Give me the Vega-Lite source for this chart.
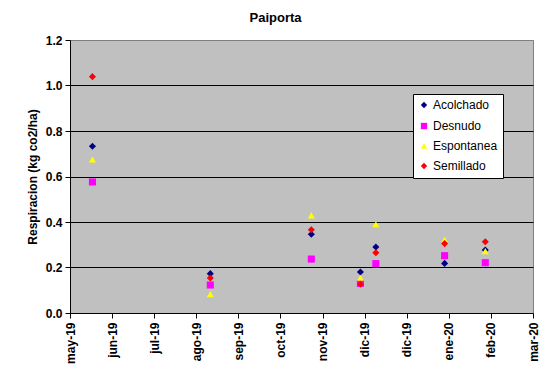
{
  "$schema": "https://vega.github.io/schema/vega-lite/v6.json",
  "width": 463,
  "height": 273,
  "autosize": "none",
  "padding": {"left": 70, "top": 40, "right": 18, "bottom": 75},
  "background": "white",
  "title": {"text": "Paiporta", "font": "Liberation Sans", "fontSize": 13, "fontWeight": "bold", "color": "black", "anchor": "middle", "dx": -26, "offset": 9},
  "config": {
    "view": {"stroke": "#808080", "fill": "#C0C0C0"},
    "axis": {"labelFont": "Liberation Sans", "labelFontSize": 12, "labelFontWeight": "bold", "labelColor": "black", "titleFont": "Liberation Sans", "titleFontSize": 12, "titleFontWeight": "bold", "titleColor": "black", "domainColor": "black", "tickColor": "black", "tickSize": 5}
  },
  "data": {"values": [
    {"fecha": "2019-05-21", "serie": "Acolchado", "valor": 0.733},
    {"fecha": "2019-08-13", "serie": "Acolchado", "valor": 0.173},
    {"fecha": "2019-10-24", "serie": "Acolchado", "valor": 0.346},
    {"fecha": "2019-11-28", "serie": "Acolchado", "valor": 0.180},
    {"fecha": "2019-12-09", "serie": "Acolchado", "valor": 0.290},
    {"fecha": "2020-01-27", "serie": "Acolchado", "valor": 0.218},
    {"fecha": "2020-02-25", "serie": "Acolchado", "valor": 0.277},
    {"fecha": "2019-05-21", "serie": "Desnudo", "valor": 0.576},
    {"fecha": "2019-08-13", "serie": "Desnudo", "valor": 0.123},
    {"fecha": "2019-10-24", "serie": "Desnudo", "valor": 0.237},
    {"fecha": "2019-11-28", "serie": "Desnudo", "valor": 0.130},
    {"fecha": "2019-12-09", "serie": "Desnudo", "valor": 0.217},
    {"fecha": "2020-01-27", "serie": "Desnudo", "valor": 0.252},
    {"fecha": "2020-02-25", "serie": "Desnudo", "valor": 0.221},
    {"fecha": "2019-05-21", "serie": "Espontanea", "valor": 0.675},
    {"fecha": "2019-08-13", "serie": "Espontanea", "valor": 0.083},
    {"fecha": "2019-10-24", "serie": "Espontanea", "valor": 0.429},
    {"fecha": "2019-11-28", "serie": "Espontanea", "valor": 0.155},
    {"fecha": "2019-12-09", "serie": "Espontanea", "valor": 0.390},
    {"fecha": "2020-01-27", "serie": "Espontanea", "valor": 0.322},
    {"fecha": "2020-02-25", "serie": "Espontanea", "valor": 0.272},
    {"fecha": "2019-05-21", "serie": "Semillado", "valor": 1.039},
    {"fecha": "2019-08-13", "serie": "Semillado", "valor": 0.154},
    {"fecha": "2019-10-24", "serie": "Semillado", "valor": 0.366},
    {"fecha": "2019-11-28", "serie": "Semillado", "valor": 0.126},
    {"fecha": "2019-12-09", "serie": "Semillado", "valor": 0.265},
    {"fecha": "2020-01-27", "serie": "Semillado", "valor": 0.305},
    {"fecha": "2020-02-25", "serie": "Semillado", "valor": 0.313}
  ]},
  "mark": {"type": "point", "filled": true, "opacity": 1, "size": 50},
  "encoding": {
    "x": {
      "field": "fecha", "type": "temporal",
      "scale": {"type": "utc", "domain": [{"year": 2019, "month": 5, "date": 5, "utc": true}, {"year": 2020, "month": 3, "date": 30, "utc": true}]},
      "axis": {
        "title": null, "grid": false, "labelAngle": 270, "labelPadding": 4,
        "values": [
          {"year": 2019, "month": 5, "date": 5, "utc": true},
          {"year": 2019, "month": 6, "date": 4, "utc": true},
          {"year": 2019, "month": 7, "date": 4, "utc": true},
          {"year": 2019, "month": 8, "date": 3, "utc": true},
          {"year": 2019, "month": 9, "date": 2, "utc": true},
          {"year": 2019, "month": 10, "date": 2, "utc": true},
          {"year": 2019, "month": 11, "date": 1, "utc": true},
          {"year": 2019, "month": 12, "date": 1, "utc": true},
          {"year": 2019, "month": 12, "date": 31, "utc": true},
          {"year": 2020, "month": 1, "date": 30, "utc": true},
          {"year": 2020, "month": 2, "date": 29, "utc": true},
          {"year": 2020, "month": 3, "date": 30, "utc": true}
        ],
        "labelExpr": "['ene','feb','mar','abr','may','jun','jul','ago','sep','oct','nov','dic'][utcmonth(datum.value)] + '-' + utcFormat(datum.value, '%y')"
      }
    },
    "y": {
      "field": "valor", "type": "quantitative",
      "scale": {"domain": [0, 1.2], "nice": false},
      "axis": {
        "title": "Respiracion (kg co2/ha)", "titlePadding": 6,
        "values": [0, 0.2, 0.4, 0.6, 0.8, 1.0, 1.2], "format": ".1f",
        "grid": true,
        "gridColor": {"condition": {"test": "datum.value > 1.1 || datum.value < 0.1", "value": "#808080"}, "value": "black"},
        "gridOpacity": 1, "labelPadding": 3
      }
    },
    "color": {
      "field": "serie", "type": "nominal",
      "scale": {"domain": ["Acolchado", "Desnudo", "Espontanea", "Semillado"], "range": ["#000080", "#FF00FF", "#FFFF00", "#FF0000"]},
      "legend": {"title": null, "orient": "none", "legendX": 343, "legendY": 54, "fillColor": "white", "strokeColor": "black", "padding": 5, "labelFont": "Liberation Sans", "labelFontSize": 12, "labelColor": "black", "symbolSize": 40, "rowPadding": 7, "labelOffset": 3, "symbolOpacity": 1}
    },
    "shape": {
      "field": "serie", "type": "nominal",
      "scale": {"domain": ["Acolchado", "Desnudo", "Espontanea", "Semillado"], "range": ["diamond", "square", "triangle-up", "diamond"]}
    }
  }
}
